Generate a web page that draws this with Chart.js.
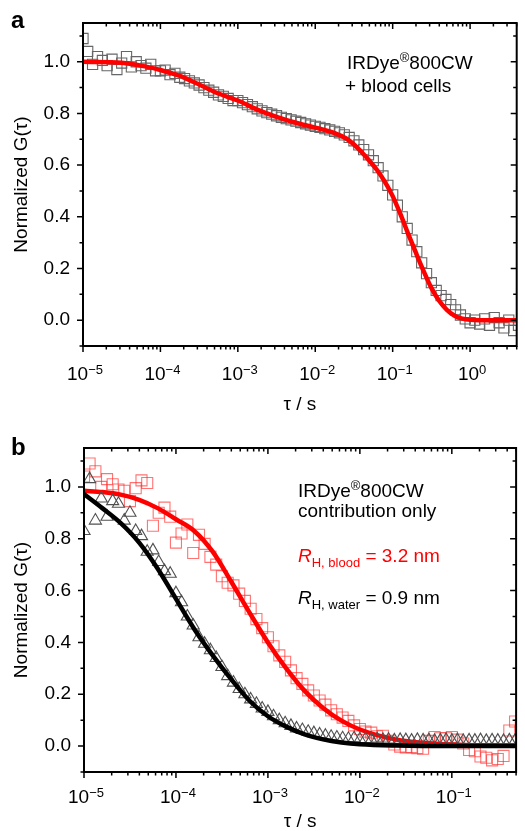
<!DOCTYPE html>
<html>
<head>
<meta charset="utf-8">
<script src="https://cdn.jsdelivr.net/npm/chart.js@4.4.1/dist/chart.umd.min.js"></script>
<style>
  html, body { margin: 0; padding: 0; background: #fff; }
  #wrap { position: relative; width: 525px; height: 831px; }
  canvas { position: absolute; left: 0; }
</style>
</head>
<body>
<div id="wrap">
  <canvas id="chartA" width="525" height="415" style="top:0"></canvas>
  <canvas id="chartB" width="525" height="416" style="top:415px"></canvas>
</div>
<script>
// ---- panel a: IRDye 800CW + blood cells ----
const tauA = [
  1.00e-5, 1.15e-5, 1.33e-5, 1.54e-5, 1.78e-5, 2.05e-5, 2.37e-5, 2.74e-5, 3.16e-5, 3.65e-5, 4.22e-5, 4.87e-5, 5.62e-5, 6.49e-5, 7.50e-5, 8.66e-5,
  1.00e-4, 1.15e-4, 1.33e-4, 1.54e-4, 1.78e-4, 2.05e-4, 2.37e-4, 2.74e-4, 3.16e-4, 3.65e-4, 4.22e-4, 4.87e-4, 5.62e-4, 6.49e-4, 7.50e-4, 8.66e-4,
  1.00e-3, 1.15e-3, 1.33e-3, 1.54e-3, 1.78e-3, 2.05e-3, 2.37e-3, 2.74e-3, 3.16e-3, 3.65e-3, 4.22e-3, 4.87e-3, 5.62e-3, 6.49e-3, 7.50e-3, 8.66e-3,
  1.00e-2, 1.15e-2, 1.33e-2, 1.54e-2, 1.78e-2, 2.05e-2, 2.37e-2, 2.74e-2, 3.16e-2, 3.65e-2, 4.22e-2, 4.87e-2, 5.62e-2, 6.49e-2, 7.50e-2, 8.66e-2,
  1.00e-1, 1.15e-1, 1.33e-1, 1.54e-1, 1.78e-1, 2.05e-1, 2.37e-1, 2.74e-1, 3.16e-1, 3.65e-1, 4.22e-1, 4.87e-1, 5.62e-1, 6.49e-1, 7.50e-1, 8.66e-1,
  1.00, 1.15, 1.33, 1.54, 1.78, 2.05, 2.37, 2.74, 3.16, 3.65, 4.22
];
const gA = [
  1.09, 1.04, 0.99, 1.02, 1.005, 0.985, 1.01, 0.97, 0.995, 1.02, 0.98, 1.0, 0.985, 0.975, 0.99, 0.965,
  0.965, 0.968, 0.95, 0.955, 0.94, 0.935, 0.926, 0.918, 0.91, 0.9, 0.89, 0.882, 0.872, 0.866, 0.858, 0.85,
  0.85, 0.842, 0.834, 0.826, 0.818, 0.81, 0.803, 0.797, 0.791, 0.785, 0.78, 0.775, 0.77, 0.765, 0.76, 0.755,
  0.75, 0.746, 0.741, 0.736, 0.731, 0.725, 0.717, 0.707, 0.694, 0.678, 0.66, 0.64, 0.617, 0.59, 0.558, 0.522,
  0.485, 0.445, 0.40, 0.355, 0.31, 0.265, 0.222, 0.18, 0.145, 0.115, 0.095, 0.08, 0.06, 0.04, 0.02, 0.005,
  -0.01, 0.0, -0.015, 0.005, -0.02, 0.01, -0.01, -0.03, 0.0, -0.04, -0.02
];
const fitTauA = [1e-5, 3.16e-5, 6.31e-5, 1e-4, 1.78e-4, 3.16e-4, 5.62e-4, 1e-3, 1.78e-3, 3.16e-3, 5.62e-3, 1e-2, 1.78e-2,
  2.51e-2, 3.16e-2, 3.98e-2, 5.01e-2, 6.31e-2, 7.94e-2, 0.1, 0.126, 0.158, 0.2, 0.251, 0.316, 0.398, 0.501, 0.631, 0.794, 1, 2, 4];
const fitA = [1.0, 0.996, 0.982, 0.968, 0.945, 0.912, 0.877, 0.85, 0.815, 0.787, 0.764, 0.745, 0.724,
  0.703, 0.68, 0.65, 0.617, 0.58, 0.535, 0.48, 0.41, 0.335, 0.26, 0.19, 0.125, 0.075, 0.04, 0.017, 0.006, 0.002, 0.0, 0.0];

// ---- panel b: dye contribution only ----
const tauB = [
  1.00e-5, 1.15e-5, 1.33e-5, 1.54e-5, 1.78e-5, 2.05e-5, 2.37e-5, 2.74e-5, 3.16e-5, 3.65e-5, 4.22e-5, 4.87e-5, 5.62e-5, 6.49e-5, 7.50e-5, 8.66e-5,
  1.00e-4, 1.15e-4, 1.33e-4, 1.54e-4, 1.78e-4, 2.05e-4, 2.37e-4, 2.74e-4, 3.16e-4, 3.65e-4, 4.22e-4, 4.87e-4, 5.62e-4, 6.49e-4, 7.50e-4, 8.66e-4,
  1.00e-3, 1.15e-3, 1.33e-3, 1.54e-3, 1.78e-3, 2.05e-3, 2.37e-3, 2.74e-3, 3.16e-3, 3.65e-3, 4.22e-3, 4.87e-3, 5.62e-3, 6.49e-3, 7.50e-3, 8.66e-3,
  1.00e-2, 1.15e-2, 1.33e-2, 1.54e-2, 1.78e-2, 2.05e-2, 2.37e-2, 2.74e-2, 3.16e-2, 3.65e-2, 4.22e-2, 4.87e-2, 5.62e-2, 6.49e-2, 7.50e-2, 8.66e-2,
  1.00e-1, 1.15e-1, 1.33e-1, 1.54e-1, 1.78e-1, 2.05e-1, 2.37e-1, 2.74e-1, 3.16e-1, 3.65e-1, 4.22e-1, 4.87e-1, 5.62e-1
];
const gBlood = [
  1.04, 1.09, 1.06, 1.0, 1.03, 1.01, 0.99, 0.985, 0.945, 0.995, 1.025, 1.015, 0.85, 0.9, 0.92, 0.885,
  0.785, 0.82, 0.855, 0.745, 0.815, 0.78, 0.73, 0.70, 0.655, 0.63, 0.62, 0.588, 0.56, 0.53, 0.49, 0.455,
  0.42, 0.385, 0.35, 0.325, 0.292, 0.262, 0.24, 0.215, 0.195, 0.176, 0.16, 0.138, 0.123, 0.11, 0.097, 0.08,
  0.066, 0.056, 0.052, 0.038, 0.04, 0.02, 0.006, -0.002, -0.005, -0.004, -0.008, -0.01, 0.02, 0.035, 0.03, 0.03,
  0.035, 0.025, 0.01, -0.015, -0.02, -0.04, -0.045, -0.055, -0.05, -0.038, 0.06, 0.095, 0.08
];
const gWater = [
  0.83, 1.03, 0.87, 0.955, 0.885, 0.945, 0.935, 0.87, 0.9, 0.83, 0.81, 0.75, 0.755, 0.71, 0.675, 0.665,
  0.59, 0.555, 0.5, 0.465, 0.42, 0.395, 0.37, 0.34, 0.305, 0.27, 0.245, 0.22, 0.2, 0.18, 0.163, 0.145,
  0.132, 0.115, 0.1, 0.088, 0.078, 0.068, 0.062, 0.055, 0.05, 0.045, 0.04, 0.036, 0.033, 0.03, 0.028, 0.03,
  0.026, 0.027, 0.025, 0.026, 0.024, 0.025, 0.022, 0.024, 0.023, 0.021, 0.024, 0.022, 0.023, 0.02, 0.022, 0.024,
  0.021, 0.023, 0.02, 0.022, 0.021, 0.023, 0.02, 0.022, 0.021, 0.02, 0.022, 0.021, 0.02
];
const fitTauB = [1e-5, 1.58e-5, 2.51e-5, 3.98e-5, 6.31e-5, 1e-4, 1.58e-4, 2.51e-4, 3.98e-4, 6.31e-4,
  1e-3, 1.58e-3, 2.51e-3, 3.98e-3, 6.31e-3, 1e-2, 2.51e-2, 1e-1, 5e-1];
const fitBlood = [0.985, 0.98, 0.97, 0.95, 0.918, 0.875, 0.83, 0.75, 0.635, 0.515,
  0.40, 0.30, 0.213, 0.147, 0.098, 0.064, 0.025, 0.006, 0.001];
const fitWater = [0.972, 0.918, 0.86, 0.785, 0.685, 0.568, 0.452, 0.35, 0.258, 0.175,
  0.115, 0.075, 0.045, 0.026, 0.014, 0.007, 0.002, 0.0, 0.0];

const yMajor = [0, 0.2, 0.4, 0.6, 0.8, 1.0];
const yMinor = [-0.1, 0.1, 0.3, 0.5, 0.7, 0.9, 1.1];
const expA = [-5, -4, -3, -2, -1, 0];
const expB = [-5, -4, -3, -2, -1];

const FAMILY = '"Liberation Sans", Arial, Helvetica, sans-serif';
const font = (px, style) => `${style || ''} ${px}px ${FAMILY}`.trim();
const xy = (xs, ys) => xs.map((x, i) => ({ x, y: ys[i] }));

// draw a run of text pieces (super/subscripts), returns width
function drawRuns(ctx, list, x, y, dry) {
  let cx = x;
  list.forEach((r) => {
    ctx.font = font(r.size || 19, r.style);
    if (!dry) ctx.fillText(r.t, cx, y + (r.dy || 0));
    cx += ctx.measureText(r.t).width;
  });
  return cx - x;
}

const frame = {
  id: 'frame',
  afterDraw(chart, args, o) {
    const { ctx, chartArea: a } = chart;
    const xs = chart.scales.x;
    const ys = chart.scales.y;
    ctx.save();
    ctx.strokeStyle = '#000';
    ctx.fillStyle = '#000';
    ctx.lineWidth = 1.5;
    ctx.beginPath();
    const tick = (x1, y1, x2, y2) => { ctx.moveTo(x1, y1); ctx.lineTo(x2, y2); };
    yMajor.forEach((v) => {
      const p = ys.getPixelForValue(v);
      tick(a.left - 6, p, a.left, p);
      tick(a.right - 6, p, a.right, p);
    });
    yMinor.forEach((v) => {
      const p = ys.getPixelForValue(v);
      tick(a.left - 3.5, p, a.left, p);
      tick(a.right - 3.5, p, a.right, p);
    });
    const lo = Math.floor(Math.log10(xs.min));
    const hi = Math.ceil(Math.log10(xs.max));
    for (let e = lo; e <= hi; e++) {
      for (let m = 1; m <= 9; m++) {
        const v = m * Math.pow(10, e);
        if (v < xs.min * 0.999 || v > xs.max * 1.001) continue;
        const p = xs.getPixelForValue(v);
        const len = m === 1 ? 6 : 3.5;
        tick(p, a.bottom, p, a.bottom + len);
        tick(p, a.top, p, a.top + len);
      }
    }
    ctx.stroke();
    ctx.lineWidth = 2;
    ctx.strokeRect(a.left, a.top, a.right - a.left, a.bottom - a.top);

    // y tick labels
    ctx.font = font(19);
    ctx.textAlign = 'right';
    ctx.textBaseline = 'middle';
    yMajor.forEach((v) => ctx.fillText(v.toFixed(1), a.left - 13, ys.getPixelForValue(v)));

    // x tick labels 10^n
    ctx.textAlign = 'left';
    ctx.textBaseline = 'alphabetic';
    o.exps.forEach((e) => {
      const p = xs.getPixelForValue(Math.pow(10, e));
      const parts = [{ t: '10' }, { t: e < 0 ? '\u2212' + (-e) : String(e), size: 13, dy: -6 }];
      const w = drawRuns(ctx, parts, 0, 0, true);
      drawRuns(ctx, parts, p - w / 2 + 2, a.bottom + o.labelDy);
    });

    // axis titles
    ctx.font = font(19);
    ctx.textAlign = 'center';
    ctx.fillText('\u03c4 / s', (a.left + a.right) / 2, a.bottom + o.titleDy);
    ctx.save();
    ctx.translate(22, (a.top + a.bottom) / 2);
    ctx.rotate(-Math.PI / 2);
    ctx.textBaseline = 'middle';
    ctx.fillText('Normalized G(\u03c4)', 0, 0);
    ctx.restore();

    // panel letter
    ctx.textAlign = 'left';
    ctx.font = font(24, 'bold');
    ctx.fillText(o.letter, 11, o.letterY);

    // notes
    o.notes.forEach((n) => {
      ctx.fillStyle = n.color || '#000';
      drawRuns(ctx, n.runs, n.x, n.y);
    });
    ctx.restore();
  },
};

const dyeName = [{ t: 'IRDye' }, { t: '\u00ae', size: 13, dy: -7 }, { t: '800CW' }];

function makeChart(id, datasets, xMax, padding, frameOpts) {
  return new Chart(document.getElementById(id), {
    type: 'scatter',
    data: { datasets },
    options: {
      responsive: false,
      animation: false,
      layout: { padding },
      plugins: { legend: { display: false }, tooltip: { enabled: false }, frame: frameOpts },
      scales: {
        x: { type: 'logarithmic', min: 1e-5, max: xMax, display: false },
        y: { type: 'linear', min: -0.1, max: 1.15, display: false },
      },
    },
    plugins: [frame],
  });
}

makeChart('chartA', [
  {
    data: xy(fitTauA, fitA), showLine: true, borderColor: '#ff0000', borderWidth: 4.5,
    pointRadius: 0, cubicInterpolationMode: 'monotone', clip: 0, order: 0,
  },
  {
    data: xy(tauA, gA), pointStyle: 'rect', pointRadius: 7.2, borderWidth: 1.1,
    pointBorderColor: '#666666', pointBackgroundColor: 'rgba(0,0,0,0)', clip: 0, order: 1,
  },
], 4, { left: 83, right: 3, top: 23, bottom: 69 }, {
  letter: 'a', letterY: 28, exps: expA, labelDy: 34, titleDy: 64,
  notes: [
    { x: 347, y: 69, runs: dyeName },
    { x: 345, y: 92, runs: [{ t: '+ blood cells' }] },
  ],
});

makeChart('chartB', [
  {
    data: xy(fitTauB, fitWater), showLine: true, borderColor: '#000000', borderWidth: 4.5,
    pointRadius: 0, cubicInterpolationMode: 'monotone', clip: 0, order: 0,
  },
  {
    data: xy(tauB, gWater), pointStyle: 'triangle', pointRadius: 7, borderWidth: 1.1,
    pointBorderColor: '#505050', pointBackgroundColor: 'rgba(0,0,0,0)', clip: 0, order: 1,
  },
  {
    data: xy(fitTauB, fitBlood), showLine: true, borderColor: '#ff0000', borderWidth: 4.5,
    pointRadius: 0, cubicInterpolationMode: 'monotone', clip: 0, order: 2,
  },
  {
    data: xy(tauB, gBlood), pointStyle: 'rect', pointRadius: 7.8, borderWidth: 1.1,
    pointBorderColor: 'rgba(255,40,40,0.65)', pointBackgroundColor: 'rgba(0,0,0,0)', clip: 0, order: 3,
  },
], 0.5, { left: 84, right: 4, top: 33, bottom: 59 }, {
  letter: 'b', letterY: 40, exps: expB, labelDy: 31, titleDy: 55,
  notes: [
    { x: 298, y: 82, runs: dyeName },
    { x: 298, y: 102, runs: [{ t: 'contribution only' }] },
    { x: 298, y: 147, color: '#ff0000', runs: [{ t: 'R', style: 'italic' }, { t: 'H, blood', size: 13, dy: 5 }, { t: ' = 3.2 nm' }] },
    { x: 298, y: 189, runs: [{ t: 'R', style: 'italic' }, { t: 'H, water', size: 13, dy: 5 }, { t: ' = 0.9 nm' }] },
  ],
});
</script>
</body>
</html>
